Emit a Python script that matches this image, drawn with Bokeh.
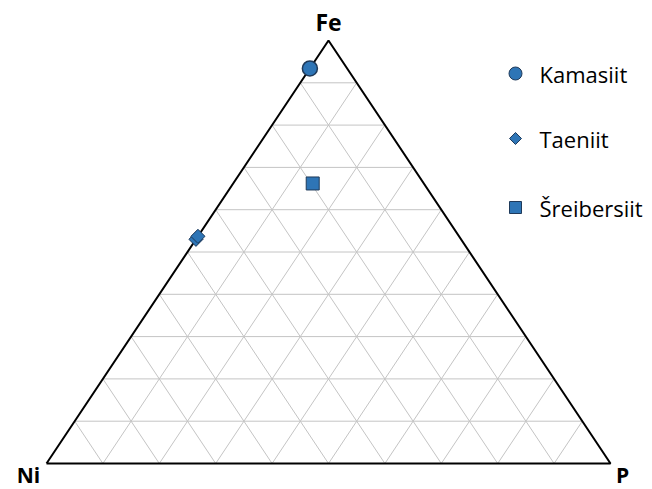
import math
from bokeh.plotting import figure
from bokeh.embed import file_html
from bokeh.resources import INLINE
from bokeh.core.properties import value
from bokeh.models import Range1d

# Data (mass fractions: Ni, P, Fe)
series = ["Kamasiit", "Taeniit", "Šreibersiit"]
kam_fe = [0.934]
kam_ni = [0.066]
kam_p = [0.0]
tae_fe = [0.530, 0.537]
tae_ni = [0.470, 0.463]
tae_p = [0.0, 0.0]
sch_fe = [0.662]
sch_ni = [0.197]
sch_p = [0.141]
grid_levels = [0.1, 0.2, 0.3, 0.4, 0.5, 0.6, 0.7, 0.8, 0.9]
corner_labels = ["Ni", "P", "Fe"]

FILL = "#2e75b6"
EDGE = "#1f3a5a"
FONT = "Open Sans"

def tern(ni, p, fe):
    # Ni bottom-left (0,0), P bottom-right (1,0), Fe top (0.5,1)
    x = [pp + 0.5 * ff for pp, ff in zip(p, fe)]
    y = list(fe)
    return x, y

W, H = 652, 489
X0, Y0, SX, SY = 46, 463, 564, 423
p = figure(width=W, height=H, output_backend="svg", toolbar_location=None,
           min_border=0, outline_line_color=None)
p.x_range = Range1d(-X0 / SX, (W - X0) / SX)
p.y_range = Range1d(-(H - Y0) / SY, Y0 / SY)
p.axis.visible = False
p.xgrid.visible = False
p.ygrid.visible = False

# grid lines
xs, ys = [], []
for g in grid_levels:
    x, y = tern([1 - g, 0], [0, 1 - g], [g, g])
    xs.append(x); ys.append(y)
    x, y = tern([g, g], [1 - g, 0], [0, 1 - g])
    xs.append(x); ys.append(y)
    x, y = tern([1 - g, 0], [g, g], [0, 1 - g])
    xs.append(x); ys.append(y)
p.multi_line(xs, ys, line_color="#c4c4c4", line_width=1)

# outline
ox, oy = tern([1, 0, 0, 1], [0, 1, 0, 0], [0, 0, 1, 0])
p.line(ox, oy, line_color="black", line_width=2)

# corner labels
lx, ly = tern([1, 0, 0], [0, 1, 0], [0, 0, 1])
offs = [(-18, 11), (12, 11), (0, -19)]
sizes = ["21px", "21px", "23px"]
for name, x, y, (dx, dy), fs in zip(corner_labels, lx, ly, offs, sizes):
    p.text([x], [y], text=[name], x_offset=dx, y_offset=dy,
           text_align="center", text_baseline="middle",
           text_font=value(FONT), text_font_style="bold",
           text_font_size=fs, text_color="black")

# data points
x, y = tern(kam_ni, kam_p, kam_fe)
p.scatter(x, y, marker="circle", size=15, fill_color=FILL, line_color=EDGE, line_width=1.5)
x, y = tern(tae_ni, tae_p, tae_fe)
p.scatter(x, y, marker="square", angle=math.pi / 4, size=10, fill_color=FILL, line_color=EDGE, line_width=1)
x, y = tern(sch_ni, sch_p, sch_fe)
p.scatter(x, y, marker="square", size=13, fill_color=FILL, line_color=EDGE, line_width=1)

# legend (manual)
def px2data(px, py):
    return (px - X0) / SX, (Y0 - py) / SY

markers = ["circle", "square", "square"]
angles = [0, math.pi / 4, 0]
msizes = [13, 8.5, 12]
leg_y = [73, 138, 207]
for name, m, a, s, yy in zip(series, markers, angles, msizes, leg_y):
    mx, my = px2data(515, yy)
    p.scatter([mx], [my], marker=m, angle=a, size=s, fill_color=FILL, line_color=EDGE, line_width=1)
    tx, ty = px2data(539, yy)
    p.text([tx], [ty], text=[name], text_align="left", text_baseline="middle",
           text_font=value(FONT), text_font_size="22px", text_color="black")

open("out.html", "w").write(file_html(p, INLINE))
